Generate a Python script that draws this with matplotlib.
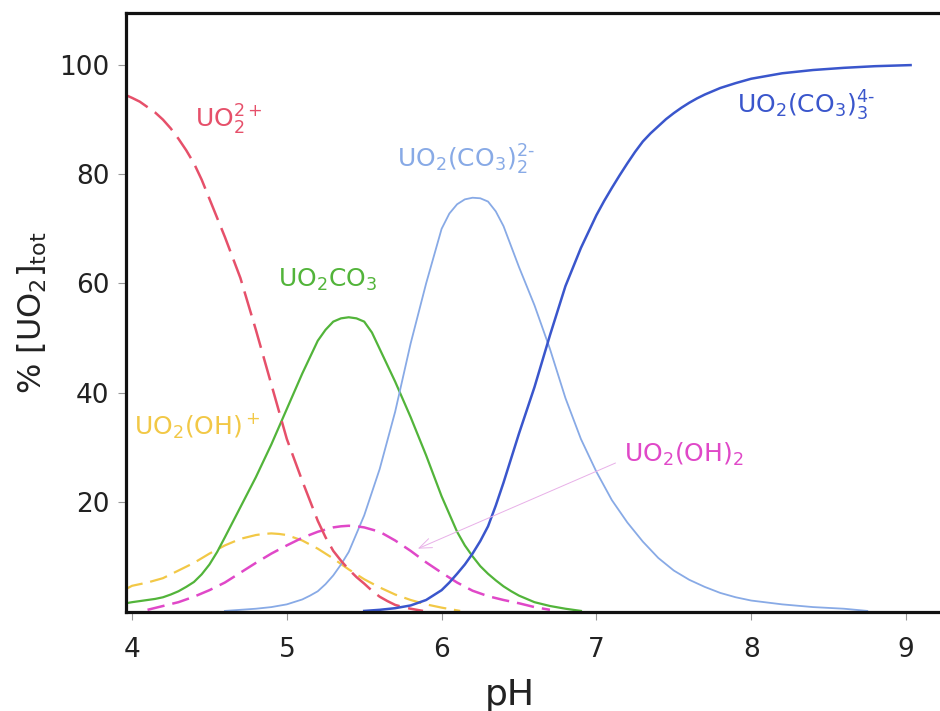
import matplotlib
matplotlib.use('Agg')
import matplotlib.pyplot as plt

plt.rcParams['font.family'] = ['DejaVu Sans']
plt.rcParams['mathtext.default'] = 'regular'

# speciation of uranyl vs pH (% of total UO2)
ph_uo2 = [3.96, 4.0, 4.05, 4.1, 4.15, 4.2, 4.25, 4.3, 4.35, 4.4, 4.45, 4.5, 4.6, 4.7,
          4.8, 4.9, 5.0, 5.1, 5.2, 5.25, 5.3, 5.35, 5.4, 5.45, 5.5, 5.55, 5.6, 5.65,
          5.7, 5.75, 5.8, 5.88]
pct_uo2 = [94.5, 94.0, 93.3, 92.3, 91.3, 90.0, 88.4, 86.5, 84.4, 82.0, 79.0, 75.5,
           68.5, 61.0, 51.5, 41.5, 31.5, 23.8, 16.5, 13.5, 11.0, 9.2, 7.6, 6.2, 5.0,
           3.7, 2.6, 1.8, 1.1, 0.7, 0.4, 0.0]

ph_uo2oh = [3.96, 4.0, 4.1, 4.2, 4.3, 4.4, 4.5, 4.6, 4.7, 4.8, 4.85, 4.9, 4.95, 5.0,
            5.1, 5.2, 5.3, 5.4, 5.5, 5.6, 5.7, 5.8, 5.9, 6.0, 6.12]
pct_uo2oh = [4.0, 4.6, 5.2, 6.0, 7.4, 8.8, 10.5, 12.0, 13.2, 13.9, 14.1, 14.2, 14.1,
             13.9, 12.9, 11.4, 9.6, 7.6, 5.8, 4.3, 3.0, 2.0, 1.2, 0.6, 0.0]

ph_uo2co3 = [3.96, 4.0, 4.1, 4.15, 4.2, 4.25, 4.3, 4.35, 4.4, 4.45, 4.5, 4.55, 4.6,
             4.7, 4.8, 4.9, 5.0, 5.1, 5.2, 5.25, 5.3, 5.35, 5.4, 5.45, 5.5, 5.55, 5.6,
             5.7, 5.8, 5.9, 6.0, 6.1, 6.15, 6.2, 6.25, 6.3, 6.35, 6.4, 6.45, 6.5, 6.6,
             6.7, 6.8, 6.9]
pct_uo2co3 = [1.4, 1.6, 2.0, 2.2, 2.5, 3.0, 3.6, 4.4, 5.3, 6.7, 8.5, 10.8, 13.5, 19.0,
              24.5, 30.5, 37.0, 43.5, 49.5, 51.5, 53.0, 53.6, 53.8, 53.6, 53.0, 51.0,
              48.0, 42.0, 35.5, 28.5, 21.0, 14.5, 12.0, 10.0, 8.2, 6.8, 5.6, 4.5, 3.6,
              2.8, 1.6, 0.9, 0.4, 0.0]

ph_uo2oh2 = [4.1, 4.2, 4.3, 4.4, 4.5, 4.6, 4.7, 4.8, 4.9, 5.0, 5.1, 5.2, 5.3, 5.35,
             5.4, 5.45, 5.5, 5.6, 5.7, 5.8, 5.9, 6.0, 6.1, 6.2, 6.3, 6.4, 6.5, 6.6, 6.7]
pct_uo2oh2 = [0.2, 0.9, 1.6, 2.6, 3.8, 5.2, 7.0, 8.8, 10.5, 12.0, 13.4, 14.5, 15.3,
              15.5, 15.6, 15.5, 15.3, 14.5, 12.9, 11.0, 8.9, 7.0, 5.2, 3.7, 2.7, 2.0,
              1.4, 0.7, 0.2]

ph_dicarb = [4.6, 4.7, 4.8, 4.9, 5.0, 5.1, 5.15, 5.2, 5.25, 5.3, 5.35, 5.4, 5.5, 5.6,
             5.7, 5.8, 5.9, 6.0, 6.05, 6.1, 6.15, 6.2, 6.25, 6.3, 6.35, 6.4, 6.5, 6.6,
             6.7, 6.8, 6.9, 7.0, 7.1, 7.2, 7.3, 7.4, 7.5, 7.6, 7.7, 7.8, 7.9, 8.0,
             8.2, 8.4, 8.6, 8.75]
pct_dicarb = [0.0, 0.2, 0.4, 0.7, 1.2, 2.1, 2.8, 3.6, 4.9, 6.5, 8.5, 10.8, 17.5, 26.0,
              36.5, 49.0, 60.0, 70.0, 72.8, 74.5, 75.4, 75.7, 75.6, 75.0, 73.2, 70.5,
              63.0, 56.0, 48.0, 39.0, 31.5, 25.5, 20.3, 16.2, 12.7, 9.7, 7.4, 5.7,
              4.4, 3.3, 2.5, 1.9, 1.2, 0.7, 0.4, 0.0]

ph_tricarb = [5.5, 5.6, 5.7, 5.8, 5.9, 6.0, 6.05, 6.1, 6.15, 6.2, 6.25, 6.3, 6.35, 6.4,
              6.5, 6.6, 6.7, 6.8, 6.9, 7.0, 7.05, 7.1, 7.15, 7.2, 7.25, 7.3, 7.35,
              7.4, 7.45, 7.5, 7.55, 7.6, 7.65, 7.7, 7.8, 7.9, 8.0, 8.2, 8.4, 8.6,
              8.8, 9.03]
pct_tricarb = [0.0, 0.2, 0.5, 1.0, 2.0, 3.8, 5.2, 6.8, 8.5, 10.5, 12.8, 15.5, 19.3,
               23.5, 32.5, 41.0, 50.5, 59.5, 66.5, 72.5, 75.1, 77.5, 79.8, 82.0, 84.1,
               86.0, 87.5, 88.8, 90.1, 91.2, 92.2, 93.1, 93.9, 94.6, 95.8, 96.7, 97.5,
               98.5, 99.1, 99.5, 99.8, 100.0]

c_red = '#e6506a'
c_yellow = '#f2c846'
c_green = '#52b43a'
c_magenta = '#e048c8'
c_light = '#88aae6'
c_dark = '#3a56cc'

fig = plt.figure(figsize=(9.4, 7.11), dpi=100)
ax = fig.add_axes([126 / 940, 1 - 612 / 711, 1 - 126 / 940, (612 - 12.7) / 711])

ax.plot(ph_uo2oh, pct_uo2oh, color=c_yellow, lw=1.6, dashes=(8, 3.5))
ax.plot(ph_uo2co3, pct_uo2co3, color=c_green, lw=1.6)
ax.plot(ph_dicarb, pct_dicarb, color=c_light, lw=1.3)
ax.plot(ph_uo2oh2, pct_uo2oh2, color=c_magenta, lw=1.8, dashes=(7, 3.2))
ax.plot(ph_uo2, pct_uo2, color=c_red, lw=1.8, dashes=(10, 3.5))
ax.plot(ph_tricarb, pct_tricarb, color=c_dark, lw=1.8)

# species labels
fs = 18
ax.text(4.41, 88.6, r'UO$_2^{2+}$', color=c_red, fontsize=fs, va='baseline')
ax.text(4.94, 59.3, r'UO$_2$CO$_3$', color=c_green, fontsize=fs, va='baseline')
ax.text(5.71, 81.3, r'UO$_2$(CO$_3$)$_2^{2\text{-}}$', color=c_light, fontsize=fs,
        va='baseline')
ax.text(7.91, 91.2, r'UO$_2$(CO$_3$)$_3^{4\text{-}}$', color=c_dark, fontsize=fs,
        va='baseline')
ax.text(4.01, 32.2, r'UO$_2$(OH)$^+$', color=c_yellow, fontsize=fs, va='baseline')
ax.text(7.18, 27.3, r'UO$_2$(OH)$_2$', color=c_magenta, fontsize=fs, va='baseline')
ax.annotate('', xy=(5.83, 11.2), xytext=(7.14, 27.3),
            arrowprops=dict(arrowstyle='->,head_length=0.9,head_width=0.35',
                            color='#e8b0e8', lw=0.7))

ax.set_xlim(3.961, 9.22)
ax.set_ylim(-0.2, 109.6)
ax.set_xticks([4, 5, 6, 7, 8, 9])
ax.set_yticks([20, 40, 60, 80, 100])

for side in ['left', 'bottom', 'top']:
    ax.spines[side].set_linewidth(2.3)
    ax.spines[side].set_color('#111111')
ax.spines['right'].set_visible(False)

ax.tick_params(axis='both', direction='out', length=6, width=0.8, color='#999999',
               labelsize=19, labelcolor='#222222')
ax.tick_params(axis='x', pad=12)
ax.tick_params(axis='y', pad=6)

ax.set_xlabel('pH', fontsize=26, color='#222222', va='baseline')
ax.xaxis.set_label_coords((510 - 126) / 814, (612 - 705) / 599.3)
ax.set_ylabel(r'% [UO$_2$]$_{tot}$', fontsize=23, color='#222222', va='center')
ax.yaxis.set_label_coords((32 - 126) / 814, (612 - 313) / 599.3)

fig.savefig('out.png', dpi=100)
